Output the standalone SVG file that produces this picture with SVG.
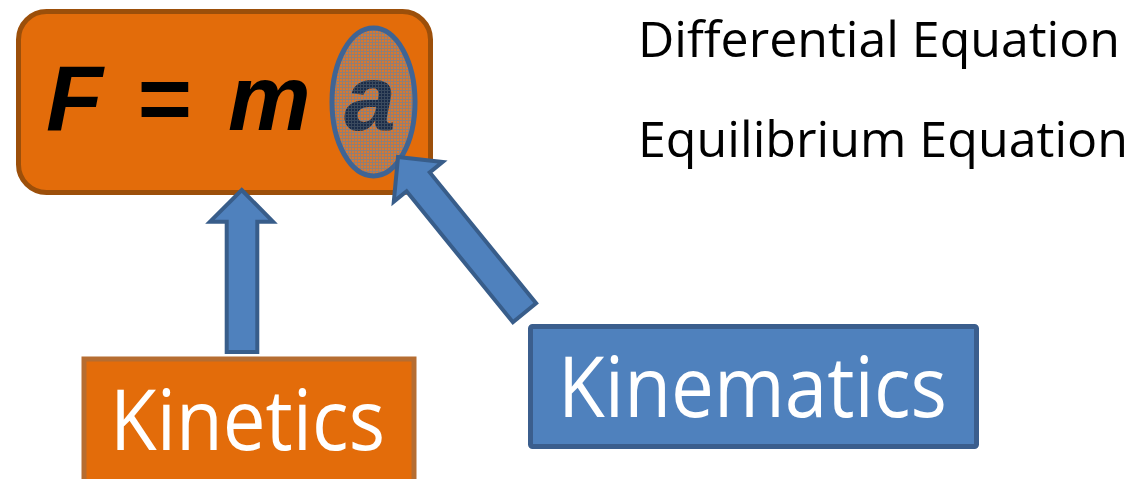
<svg xmlns="http://www.w3.org/2000/svg" width="1144" height="479" viewBox="0 0 1144 479">
  <style>
    .orange { fill: #E36C0A; }
    .blue { fill: #4F81BD; stroke: #385D8A; stroke-width: 4; stroke-linejoin: miter; }
    .eq { font-family: "Liberation Sans", Arial, sans-serif; font-weight: bold; font-style: italic; font-size: 93px; fill: #000; }
    .lbl { font-family: "Open Sans", "Noto Sans", sans-serif; font-size: 84px; fill: #fff; }
    .side { font-family: "Open Sans", "Noto Sans", sans-serif; font-size: 49px; fill: #000; }
  </style>
  <defs>
    <pattern id="grid" width="3" height="3" patternUnits="userSpaceOnUse">
      <rect width="3" height="3" fill="#D9772F"/>
      <rect x="0" y="0" width="3" height="1" fill="#8E7F78"/>
      <rect x="0" y="0" width="1" height="3" fill="#8E7F78"/>
    </pattern>
    <pattern id="gridDark" width="3" height="3" patternUnits="userSpaceOnUse">
      <rect width="3" height="3" fill="#1B2C48"/>
      <rect x="0" y="0" width="3" height="1" fill="#3A4A5E"/>
      <rect x="0" y="0" width="1" height="3" fill="#3A4A5E"/>
    </pattern>
  </defs>

  <g id="equation">
    <rect x="18.5" y="11.5" width="412" height="181" rx="28" class="orange" stroke="#9C4F0A" stroke-width="5"/>
    <text class="eq" x="46" y="130">F</text>
    <text class="eq" x="136" y="130">=</text>
    <text class="eq" x="228" y="130">m</text>
    <ellipse cx="373.5" cy="102" rx="41.5" ry="74" fill="url(#grid)"/>
    <text class="eq" x="344" y="130" fill="url(#gridDark)" style="fill:url(#gridDark)">a</text>
    <ellipse cx="373.5" cy="102" rx="41.5" ry="74" fill="none" stroke="#3F6494" stroke-width="5"/>
  </g>

  <g id="side-labels">
    <text class="side" x="638" y="57" textLength="482" lengthAdjust="spacingAndGlyphs">Differential Equation</text>
    <text class="side" x="638" y="157" textLength="490" lengthAdjust="spacingAndGlyphs">Equilibrium Equation</text>
  </g>

  <g id="kinetics">
    <rect x="84" y="359" width="330" height="130" class="orange" stroke="#B66D31" stroke-width="5"/>
    <text class="lbl" x="110" y="450" textLength="275" lengthAdjust="spacingAndGlyphs">Kinetics</text>
  </g>

  <g id="kinematics">
    <rect x="530.5" y="326.5" width="446" height="120" fill="#4F81BD" stroke="#3B5E8D" stroke-width="5" rx="2"/>
    <text class="lbl" x="558" y="417" textLength="389" lengthAdjust="spacingAndGlyphs">Kinematics</text>
  </g>

  <g id="connectors">
    <polygon class="blue" points="241.7,190 273,221.7 257.3,221.7 257.3,352 226.7,352 226.7,221.7 210,221.7"/>
    <polygon class="blue" points="398,157 442.6,162 429.8,172.4 536.1,303.3 512.9,322.2 406.6,191.3 393.8,201.6"/>
  </g>
</svg>
